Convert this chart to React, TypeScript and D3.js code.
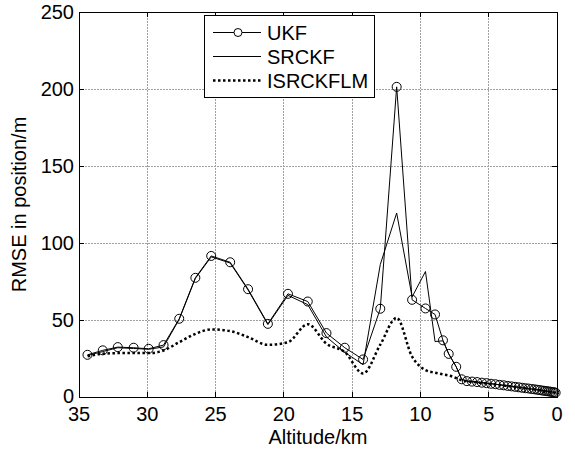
import React, { useEffect, useRef } from "react";
import * as d3 from "d3";

// altitude samples (km), shared by all three filters
const altitude = [
  34.38, 33.26, 32.16, 31.0, 29.9, 28.81, 27.66, 26.48, 25.32, 23.93, 22.62,
  21.17, 19.7, 18.25, 16.88, 15.54, 14.2, 12.94, 11.74, 10.61, 9.63, 8.93,
  8.35, 7.93, 7.38, 6.98, 6.6, 6.22, 5.85, 5.5, 5.16, 4.83, 4.51, 4.2, 3.9,
  3.61, 3.33, 3.06, 2.8, 2.55, 2.31, 2.08, 1.86, 1.65, 1.45, 1.26, 1.08, 0.91,
  0.75, 0.6, 0.46, 0.33, 0.21, 0.1,
];

const ukf = [
  27.4, 30.3, 32.4, 32.0, 31.3, 33.7, 50.8, 77.4, 91.6, 87.5, 70.0, 47.5, 67.0,
  62.0, 41.5, 32.0, 24.4, 57.3, 201.4, 63.1, 57.5, 53.6, 36.8, 28.0, 19.6,
  11.5, 10.3, 10.0, 9.7, 9.3, 9.0, 8.6, 8.3, 7.9, 7.6, 7.2, 6.9, 6.6, 6.3, 6.0,
  5.7, 5.5, 5.2, 5.0, 4.7, 4.5, 4.2, 4.0, 3.8, 3.6, 3.4, 3.2, 3.0, 2.8,
];

const srckf = [
  27.0, 29.5, 32.0, 31.5, 31.0, 32.5, 50.5, 77.0, 91.0, 87.0, 69.5, 47.0, 66.0,
  60.0, 39.0, 29.0, 21.0, 86.0, 119.5, 65.0, 81.5, 36.0, 36.5, 28.0, 19.6,
  11.5, 10.3, 10.0, 9.7, 9.3, 9.0, 8.6, 8.3, 7.9, 7.6, 7.2, 6.9, 6.6, 6.3, 6.0,
  5.7, 5.5, 5.2, 5.0, 4.7, 4.5, 4.2, 4.0, 3.8, 3.6, 3.4, 3.2, 3.0, 2.8,
];

const isrckflm = [
  26.4, 28.1, 28.5, 28.5, 28.5, 30.2, 35.6, 41.0, 43.9, 42.8, 38.9, 33.9, 35.6,
  47.3, 34.6, 29.2, 15.3, 34.0, 51.4, 26.2, 17.5, 15.8, 14.7, 14.0, 12.3,
  10.8, 10.2, 9.8, 9.5, 9.1, 8.8, 8.5, 8.1, 7.8, 7.5, 7.1, 6.8, 6.5, 6.2, 5.9,
  5.6, 5.4, 5.1, 4.9, 4.6, 4.4, 4.1, 3.9, 3.7, 3.5, 3.3, 3.1, 2.9, 2.7,
];

const xTicks = [35, 30, 25, 20, 15, 10, 5, 0];
const yTicks = [0, 50, 100, 150, 200, 250];
const legendLabels = ["UKF", "SRCKF", "ISRCKFLM"];

const App = () => {
  const ref = useRef<SVGSVGElement>(null);

  useEffect(() => {
    const width = 575;
    const height = 449;
    const left = 79, right = 557, top = 12, bottom = 397;
    const font = "'Liberation Sans', Arial, Helvetica, sans-serif";

    const svg = d3.select(ref.current);
    svg.selectAll("*").remove();
    svg.attr("width", width).attr("height", height);

    svg.append("rect").attr("width", width).attr("height", height).attr("fill", "#fff");

    const x = d3.scaleLinear().domain([35, 0]).range([left, right]);
    const y = d3.scaleLinear().domain([0, 250]).range([bottom, top]);

    // grid
    const grid = svg.append("g")
      .attr("stroke", "#a0a0a0")
      .attr("stroke-width", 1)
      .attr("stroke-dasharray", "1.5 1.5")
      .attr("shape-rendering", "crispEdges");
    xTicks.slice(1, -1).forEach((t) => {
      grid.append("line").attr("x1", x(t)).attr("x2", x(t)).attr("y1", top).attr("y2", bottom);
    });
    yTicks.slice(1, -1).forEach((t) => {
      grid.append("line").attr("x1", left).attr("x2", right).attr("y1", y(t)).attr("y2", y(t));
    });

    // series
    const pts = (vals: number[]) => altitude.map((a, i) => [a, vals[i]] as [number, number]);

    const straight = d3.line<[number, number]>().x((d) => x(d[0])).y((d) => y(d[1]));
    const smooth = d3.line<[number, number]>()
      .x((d) => x(d[0])).y((d) => y(d[1]))
      .curve(d3.curveMonotoneX);

    svg.append("path")
      .attr("d", smooth(pts(isrckflm).slice().sort((a, b) => a[0] - b[0])))
      .attr("fill", "none").attr("stroke", "#000")
      .attr("stroke-width", 2.5).attr("stroke-dasharray", "2.5 2.5");

    svg.append("path")
      .attr("d", straight(pts(srckf)))
      .attr("fill", "none").attr("stroke", "#000").attr("stroke-width", 1);

    svg.append("path")
      .attr("d", straight(pts(ukf)))
      .attr("fill", "none").attr("stroke", "#000").attr("stroke-width", 1);

    svg.append("g").selectAll("circle").data(pts(ukf)).enter().append("circle")
      .attr("cx", (d) => x(d[0])).attr("cy", (d) => y(d[1])).attr("r", 4.5)
      .attr("fill", "none").attr("stroke", "#000").attr("stroke-width", 1);

    // axes box + inward ticks
    const axes = svg.append("g").attr("stroke", "#000").attr("stroke-width", 1).attr("shape-rendering", "crispEdges");
    axes.append("rect").attr("x", left).attr("y", top).attr("width", right - left).attr("height", bottom - top).attr("fill", "none");
    const tl = 5;
    xTicks.forEach((t) => {
      axes.append("line").attr("x1", x(t)).attr("x2", x(t)).attr("y1", bottom).attr("y2", bottom - tl);
      axes.append("line").attr("x1", x(t)).attr("x2", x(t)).attr("y1", top).attr("y2", top + tl);
    });
    yTicks.forEach((t) => {
      axes.append("line").attr("x1", left).attr("x2", left + tl).attr("y1", y(t)).attr("y2", y(t));
      axes.append("line").attr("x1", right).attr("x2", right - tl).attr("y1", y(t)).attr("y2", y(t));
    });

    // tick labels
    const labels = svg.append("g").attr("font-family", font).attr("font-size", 20).attr("fill", "#000");
    xTicks.forEach((t) => {
      labels.append("text").attr("x", x(t)).attr("y", 421).attr("text-anchor", "middle").text(t);
    });
    yTicks.forEach((t) => {
      labels.append("text").attr("x", 74).attr("y", y(t)).attr("dy", t === 0 ? "0.3em" : "0.36em").attr("text-anchor", "end").text(t);
    });

    labels.append("text").attr("x", (left + right) / 2).attr("y", 444).attr("text-anchor", "middle").text("Altitude/km");
    labels.append("text")
      .attr("transform", `translate(26, ${(top + bottom) / 2}) rotate(-90)`)
      .attr("text-anchor", "middle").text("RMSE in position/m");

    // legend
    const lg = svg.append("g");
    lg.append("rect").attr("x", 204).attr("y", 15).attr("width", 170).attr("height", 82)
      .attr("fill", "#fff").attr("stroke", "#000").attr("stroke-width", 1).attr("shape-rendering", "crispEdges");
    const rowY = [32.5, 56.5, 80.5];
    legendLabels.forEach((name, i) => {
      const line = lg.append("line").attr("x1", 213).attr("x2", 261).attr("y1", rowY[i]).attr("y2", rowY[i])
        .attr("stroke", "#000");
      if (i === 2) line.attr("stroke-width", 2.5).attr("stroke-dasharray", "2.5 2.5");
      else line.attr("stroke-width", 1);
      if (i === 0) {
        lg.append("circle").attr("cx", 238).attr("cy", rowY[i]).attr("r", 4)
          .attr("fill", "#fff").attr("stroke", "#000");
      }
      lg.append("text").attr("x", 267).attr("y", rowY[i]).attr("dy", "0.36em")
        .attr("font-family", font).attr("font-size", 20).text(name);
    });
  }, []);

  return (
    <div style={{ position: "absolute", left: 0, top: 0 }}>
      <svg ref={ref} style={{ display: "block" }} />
    </div>
  );
};

export default App;
